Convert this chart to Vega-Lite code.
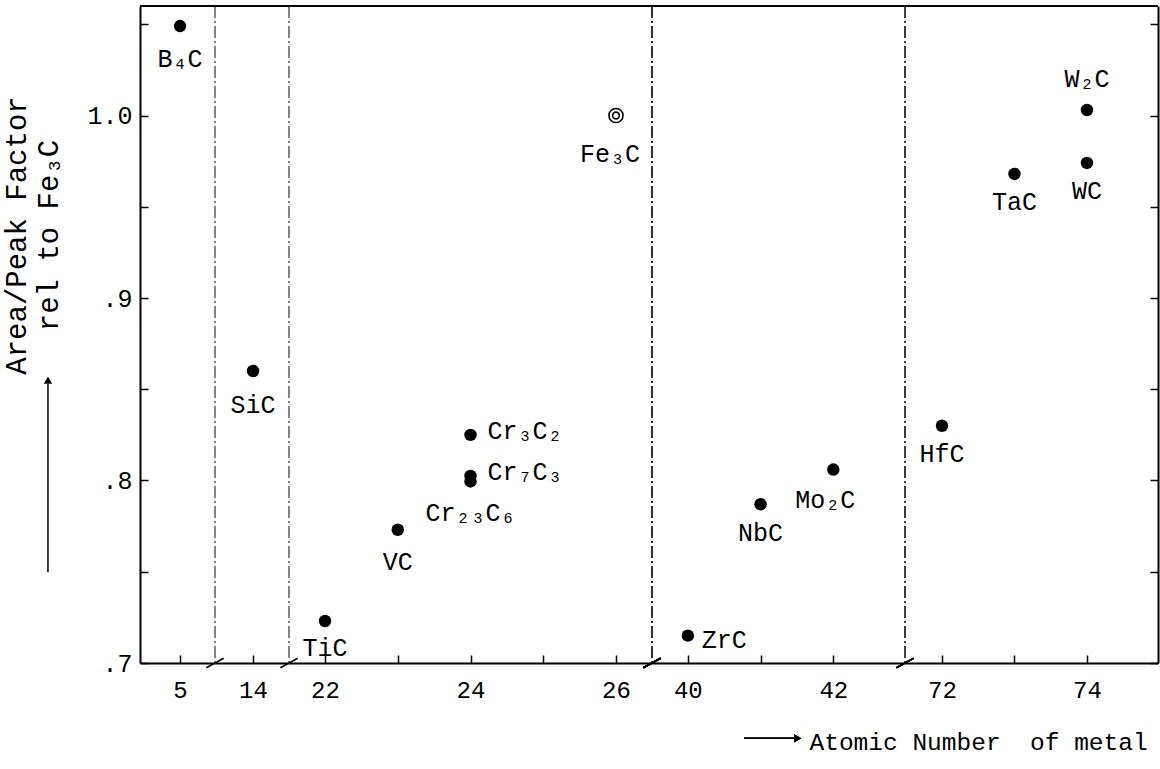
{
  "$schema": "https://vega.github.io/schema/vega-lite/v6.json",
  "padding": {"left": 2, "top": 5, "right": 2, "bottom": 5},
  "background": "white",
  "spacing": 0,
  "bounds": "flush",
  "datasets": {
    "carbides": [
      {"compound": "B₄C", "Z": 5, "factor": 1.049},
      {"compound": "SiC", "Z": 14, "factor": 0.860},
      {"compound": "TiC", "Z": 22, "factor": 0.723},
      {"compound": "VC", "Z": 23, "factor": 0.773},
      {"compound": "Cr₃C₂", "Z": 24, "factor": 0.825},
      {"compound": "Cr₇C₃", "Z": 24, "factor": 0.8025},
      {"compound": "Cr₂₃C₆", "Z": 24, "factor": 0.7995},
      {"compound": "Fe₃C", "Z": 26, "factor": 1.0},
      {"compound": "ZrC", "Z": 40, "factor": 0.715},
      {"compound": "NbC", "Z": 41, "factor": 0.787},
      {"compound": "Mo₂C", "Z": 42, "factor": 0.806},
      {"compound": "HfC", "Z": 72, "factor": 0.830},
      {"compound": "TaC", "Z": 73, "factor": 0.968},
      {"compound": "W₂C", "Z": 74, "factor": 1.003},
      {"compound": "WC", "Z": 74, "factor": 0.974}
    ]
  },
  "hconcat": [
    {
      "width": 75, "height": 657,
      "data": {"name": "carbides"},
      "transform": [{"filter": "datum.Z == 5"}],
      "resolve": {"axis": {"x": "independent", "y": "independent"}},
      "layer": [
        {"mark": {"type": "rule", "color": "black", "strokeWidth": 2}, "encoding": {"y": {"datum": 1.06, "type": "quantitative", "scale": {"domain": [0.7, 1.06], "nice": false, "zero": false}, "axis": null}}},
        {"mark": {"type": "rule", "color": "#333", "strokeWidth": 1.2, "strokeDash": [12, 3, 2, 3]}, "encoding": {"x": {"datum": 5.48, "type": "quantitative", "scale": {"domain": [4.45, 5.48], "nice": false, "zero": false}, "axis": null}}},
        {"mark": {"type": "point", "shape": "M -1 0.55 L 1 -0.55", "filled": false, "color": "black", "strokeWidth": 1.5, "size": 300, "opacity": 1}, "encoding": {"x": {"datum": 5.48, "type": "quantitative", "scale": {"domain": [4.45, 5.48], "nice": false, "zero": false}, "axis": null}, "y": {"datum": 0.7, "type": "quantitative", "scale": {"domain": [0.7, 1.06], "nice": false, "zero": false}, "axis": null}}},
        {"mark": {"type": "rule", "color": "black", "strokeWidth": 1.5}, "encoding": {"x": {"datum": 3.186, "type": "quantitative", "scale": {"domain": [4.45, 5.48], "nice": false, "zero": false}, "axis": null}, "y": {"datum": 0.7497, "type": "quantitative", "scale": {"domain": [0.7, 1.06], "nice": false, "zero": false}, "axis": null}, "y2": {"datum": 0.853}}},
        {"mark": {"type": "point", "shape": "triangle-up", "filled": true, "color": "black", "size": 70, "opacity": 1}, "encoding": {"x": {"datum": 3.186, "type": "quantitative", "scale": {"domain": [4.45, 5.48], "nice": false, "zero": false}, "axis": null}, "y": {"datum": 0.855, "type": "quantitative", "scale": {"domain": [0.7, 1.06], "nice": false, "zero": false}, "axis": null}}},
        {
          "mark": {"type": "point", "shape": "circle", "filled": true, "color": "black", "size": 155, "opacity": 1},
          "encoding": {
            "x": {"field": "Z", "type": "quantitative", "scale": {"domain": [4.45, 5.48], "nice": false, "zero": false}, "axis": {"values": [5], "title": null}},
            "y": {"field": "factor", "type": "quantitative", "scale": {"domain": [0.7, 1.06], "nice": false, "zero": false},
              "axis": {"orient": "left", "values": [0.7, 0.75, 0.8, 0.85, 0.9, 0.95, 1.0, 1.05],
                "labelExpr": "abs(datum.value-1)<0.001 ? '1.0' : abs(datum.value-0.9)<0.001 ? '.9' : abs(datum.value-0.8)<0.001 ? '.8' : abs(datum.value-0.7)<0.001 ? '.7' : ''",
                "labelFontSize": 25, "labelPadding": 16,
                "title": ["Area/Peak Factor", "rel to Fe₃C"], "titleX": -124, "titleY": 229, "titleAngle": 270, "titleAlign": "center", "titleBaseline": "middle", "titleLineHeight": 32, "titleFontSize": 29}}
          }
        },
        {"mark": {"type": "text", "dy": 33, "baseline": "middle", "align": "center"}, "encoding": {"x": {"field": "Z", "type": "quantitative", "scale": {"domain": [4.45, 5.48], "nice": false, "zero": false}, "axis": null}, "y": {"field": "factor", "type": "quantitative", "scale": {"domain": [0.7, 1.06], "nice": false, "zero": false}, "axis": null}, "text": {"field": "compound"}}}
      ]
    },
    {
      "width": 74, "height": 657,
      "data": {"name": "carbides"},
      "transform": [{"filter": "datum.Z == 14"}],
      "resolve": {"axis": {"x": "independent", "y": "independent"}},
      "layer": [
        {"mark": {"type": "rule", "color": "black", "strokeWidth": 2}, "encoding": {"y": {"datum": 1.06, "type": "quantitative", "scale": {"domain": [0.7, 1.06], "nice": false, "zero": false}, "axis": null}}},
        {"mark": {"type": "rule", "color": "#333", "strokeWidth": 1.2, "strokeDash": [12, 3, 2, 3]}, "encoding": {"x": {"datum": 14.495, "type": "quantitative", "scale": {"domain": [13.477, 14.495], "nice": false, "zero": false}, "axis": null}}},
        {"mark": {"type": "point", "shape": "M -1 0.55 L 1 -0.55", "filled": false, "color": "black", "strokeWidth": 1.5, "size": 300, "opacity": 1}, "encoding": {"x": {"datum": 14.495, "type": "quantitative", "scale": {"domain": [13.477, 14.495], "nice": false, "zero": false}, "axis": null}, "y": {"datum": 0.7, "type": "quantitative", "scale": {"domain": [0.7, 1.06], "nice": false, "zero": false}, "axis": null}}},
        {
          "mark": {"type": "point", "shape": "circle", "filled": true, "color": "black", "size": 155, "opacity": 1},
          "encoding": {
            "x": {"field": "Z", "type": "quantitative", "scale": {"domain": [13.477, 14.495], "nice": false, "zero": false}, "axis": {"values": [14], "title": null}},
            "y": {"field": "factor", "type": "quantitative", "scale": {"domain": [0.7, 1.06], "nice": false, "zero": false}, "axis": null}
          }
        },
        {"mark": {"type": "text", "dy": 34, "baseline": "middle", "align": "center"}, "encoding": {"x": {"field": "Z", "type": "quantitative", "scale": {"domain": [13.477, 14.495], "nice": false, "zero": false}, "axis": null}, "y": {"field": "factor", "type": "quantitative", "scale": {"domain": [0.7, 1.06], "nice": false, "zero": false}, "axis": null}, "text": {"field": "compound"}}}
      ]
    },
    {
      "width": 363, "height": 657,
      "data": {"name": "carbides"},
      "transform": [{"filter": "datum.Z >= 22 && datum.Z <= 26"}],
      "resolve": {"axis": {"x": "independent", "y": "independent"}},
      "layer": [
        {"mark": {"type": "rule", "color": "black", "strokeWidth": 2}, "encoding": {"y": {"datum": 1.06, "type": "quantitative", "scale": {"domain": [0.7, 1.06], "nice": false, "zero": false}, "axis": null}}},
        {"mark": {"type": "rule", "color": "#333", "strokeWidth": 1.2, "strokeDash": [12, 3, 2, 3]}, "encoding": {"x": {"datum": 26.495, "type": "quantitative", "scale": {"domain": [21.505, 26.495], "nice": false, "zero": false}, "axis": null}}},
        {"mark": {"type": "point", "shape": "M -1 0.55 L 1 -0.55", "filled": false, "color": "black", "strokeWidth": 1.5, "size": 300, "opacity": 1}, "encoding": {"x": {"datum": 26.495, "type": "quantitative", "scale": {"domain": [21.505, 26.495], "nice": false, "zero": false}, "axis": null}, "y": {"datum": 0.7, "type": "quantitative", "scale": {"domain": [0.7, 1.06], "nice": false, "zero": false}, "axis": null}}},
        {
          "transform": [{"filter": "datum.compound != 'Fe₃C'"}],
          "mark": {"type": "point", "shape": "circle", "filled": true, "color": "black", "size": 155, "opacity": 1},
          "encoding": {
            "x": {"field": "Z", "type": "quantitative", "scale": {"domain": [21.505, 26.495], "nice": false, "zero": false}, "axis": {"values": [22, 23, 24, 25, 26], "labelExpr": "datum.value % 2 == 0 ? datum.label : ''", "title": null}},
            "y": {"field": "factor", "type": "quantitative", "scale": {"domain": [0.7, 1.06], "nice": false, "zero": false}, "axis": null}
          }
        },
        {
          "transform": [{"filter": "datum.compound == 'Fe₃C'"}],
          "mark": {"type": "point", "shape": "circle", "filled": false, "color": "black", "strokeWidth": 1.6, "size": 200, "opacity": 1},
          "encoding": {
            "x": {"field": "Z", "type": "quantitative", "scale": {"domain": [21.505, 26.495], "nice": false, "zero": false}, "axis": null},
            "y": {"field": "factor", "type": "quantitative", "scale": {"domain": [0.7, 1.06], "nice": false, "zero": false}, "axis": null}
          }
        },
        {
          "transform": [{"filter": "datum.compound == 'Fe₃C'"}],
          "mark": {"type": "point", "shape": "circle", "filled": false, "color": "black", "strokeWidth": 1.6, "size": 45, "opacity": 1},
          "encoding": {
            "x": {"field": "Z", "type": "quantitative", "scale": {"domain": [21.505, 26.495], "nice": false, "zero": false}, "axis": null},
            "y": {"field": "factor", "type": "quantitative", "scale": {"domain": [0.7, 1.06], "nice": false, "zero": false}, "axis": null}
          }
        },
        {"transform": [{"filter": {"field": "compound", "oneOf": ["VC", "Cr₂₃C₆"]}}], "mark": {"type": "text", "dy": 32, "baseline": "middle", "align": "center"}, "encoding": {"x": {"field": "Z", "type": "quantitative", "scale": {"domain": [21.505, 26.495], "nice": false, "zero": false}, "axis": null}, "y": {"field": "factor", "type": "quantitative", "scale": {"domain": [0.7, 1.06], "nice": false, "zero": false}, "axis": null}, "text": {"field": "compound"}}},
        {"transform": [{"filter": {"field": "compound", "oneOf": ["TiC"]}}], "mark": {"type": "text", "dy": 27, "baseline": "middle", "align": "center"}, "encoding": {"x": {"field": "Z", "type": "quantitative", "scale": {"domain": [21.505, 26.495], "nice": false, "zero": false}, "axis": null}, "y": {"field": "factor", "type": "quantitative", "scale": {"domain": [0.7, 1.06], "nice": false, "zero": false}, "axis": null}, "text": {"field": "compound"}}},
        {"transform": [{"filter": {"field": "compound", "oneOf": ["Fe₃C"]}}], "mark": {"type": "text", "dy": 38, "dx": -6, "baseline": "middle", "align": "center"}, "encoding": {"x": {"field": "Z", "type": "quantitative", "scale": {"domain": [21.505, 26.495], "nice": false, "zero": false}, "axis": null}, "y": {"field": "factor", "type": "quantitative", "scale": {"domain": [0.7, 1.06], "nice": false, "zero": false}, "axis": null}, "text": {"field": "compound"}}},
        {"transform": [{"filter": {"field": "compound", "oneOf": ["Cr₃C₂", "Cr₇C₃"]}}], "mark": {"type": "text", "dx": 17, "dy": -4, "baseline": "middle", "align": "left"}, "encoding": {"x": {"field": "Z", "type": "quantitative", "scale": {"domain": [21.505, 26.495], "nice": false, "zero": false}, "axis": null}, "y": {"field": "factor", "type": "quantitative", "scale": {"domain": [0.7, 1.06], "nice": false, "zero": false}, "axis": null}, "text": {"field": "compound"}}}
      ]
    },
    {
      "width": 253, "height": 657,
      "data": {"name": "carbides"},
      "transform": [{"filter": "datum.Z >= 40 && datum.Z <= 42"}],
      "resolve": {"axis": {"x": "independent", "y": "independent"}},
      "layer": [
        {"mark": {"type": "rule", "color": "black", "strokeWidth": 2}, "encoding": {"y": {"datum": 1.06, "type": "quantitative", "scale": {"domain": [0.7, 1.06], "nice": false, "zero": false}, "axis": null}}},
        {"mark": {"type": "rule", "color": "#333", "strokeWidth": 1.2, "strokeDash": [12, 3, 2, 3]}, "encoding": {"x": {"datum": 42.986, "type": "quantitative", "scale": {"domain": [39.507, 42.986], "nice": false, "zero": false}, "axis": null}}},
        {"mark": {"type": "point", "shape": "M -1 0.55 L 1 -0.55", "filled": false, "color": "black", "strokeWidth": 1.5, "size": 300, "opacity": 1}, "encoding": {"x": {"datum": 42.986, "type": "quantitative", "scale": {"domain": [39.507, 42.986], "nice": false, "zero": false}, "axis": null}, "y": {"datum": 0.7, "type": "quantitative", "scale": {"domain": [0.7, 1.06], "nice": false, "zero": false}, "axis": null}}},
        {"mark": {"type": "rule", "color": "black", "strokeWidth": 1.5}, "encoding": {"x": {"datum": 40.772, "type": "quantitative", "scale": {"domain": [39.507, 42.986], "nice": false, "zero": false}, "axis": null}, "x2": {"datum": 41.5}, "y": {"datum": 0.6587, "type": "quantitative", "scale": {"domain": [0.7, 1.06], "nice": false, "zero": false}, "axis": null}}},
        {"mark": {"type": "point", "shape": "triangle-right", "filled": true, "color": "black", "size": 70, "opacity": 1}, "encoding": {"x": {"datum": 41.51, "type": "quantitative", "scale": {"domain": [39.507, 42.986], "nice": false, "zero": false}, "axis": null}, "y": {"datum": 0.6587, "type": "quantitative", "scale": {"domain": [0.7, 1.06], "nice": false, "zero": false}, "axis": null}}},
        {
          "mark": {"type": "point", "shape": "circle", "filled": true, "color": "black", "size": 155, "opacity": 1},
          "encoding": {
            "x": {"field": "Z", "type": "quantitative", "scale": {"domain": [39.507, 42.986], "nice": false, "zero": false},
              "axis": {"values": [40, 41, 42], "labelExpr": "datum.value % 2 == 0 ? datum.label : ''",
                "title": "Atomic Number\u00a0 of metal", "titleX": 157, "titleY": 79, "titleAlign": "left", "titleBaseline": "middle", "titleAngle": 0, "titleFontSize": 24.5}},
            "y": {"field": "factor", "type": "quantitative", "scale": {"domain": [0.7, 1.06], "nice": false, "zero": false}, "axis": null}
          }
        },
        {"transform": [{"filter": {"field": "compound", "oneOf": ["NbC"]}}], "mark": {"type": "text", "dy": 29, "baseline": "middle", "align": "center"}, "encoding": {"x": {"field": "Z", "type": "quantitative", "scale": {"domain": [39.507, 42.986], "nice": false, "zero": false}, "axis": null}, "y": {"field": "factor", "type": "quantitative", "scale": {"domain": [0.7, 1.06], "nice": false, "zero": false}, "axis": null}, "text": {"field": "compound"}}},
        {"transform": [{"filter": {"field": "compound", "oneOf": ["Mo₂C"]}}], "mark": {"type": "text", "dy": 30, "dx": -8, "baseline": "middle", "align": "center"}, "encoding": {"x": {"field": "Z", "type": "quantitative", "scale": {"domain": [39.507, 42.986], "nice": false, "zero": false}, "axis": null}, "y": {"field": "factor", "type": "quantitative", "scale": {"domain": [0.7, 1.06], "nice": false, "zero": false}, "axis": null}, "text": {"field": "compound"}}},
        {"transform": [{"filter": {"field": "compound", "oneOf": ["ZrC"]}}], "mark": {"type": "text", "dx": 14, "dy": 4, "baseline": "middle", "align": "left"}, "encoding": {"x": {"field": "Z", "type": "quantitative", "scale": {"domain": [39.507, 42.986], "nice": false, "zero": false}, "axis": null}, "y": {"field": "factor", "type": "quantitative", "scale": {"domain": [0.7, 1.06], "nice": false, "zero": false}, "axis": null}, "text": {"field": "compound"}}}
      ]
    },
    {
      "width": 253, "height": 657,
      "data": {"name": "carbides"},
      "transform": [{"filter": "datum.Z >= 72"}],
      "resolve": {"axis": {"x": "independent", "y": "independent"}},
      "layer": [
        {"mark": {"type": "rule", "color": "black", "strokeWidth": 2}, "encoding": {"y": {"datum": 1.06, "type": "quantitative", "scale": {"domain": [0.7, 1.06], "nice": false, "zero": false}, "axis": null}}},
        {
          "mark": {"type": "point", "shape": "circle", "filled": true, "color": "black", "size": 155, "opacity": 1},
          "encoding": {
            "x": {"field": "Z", "type": "quantitative", "scale": {"domain": [71.49, 74.98], "nice": false, "zero": false}, "axis": {"values": [72, 73, 74], "labelExpr": "datum.value % 2 == 0 ? datum.label : ''", "title": null}},
            "y": {"field": "factor", "type": "quantitative", "scale": {"domain": [0.7, 1.06], "nice": false, "zero": false}, "axis": {"orient": "right", "values": [0.7, 0.75, 0.8, 0.85, 0.9, 0.95, 1.0, 1.05], "labels": false, "title": null}}
          }
        },
        {"transform": [{"filter": {"field": "compound", "oneOf": ["HfC", "TaC", "WC"]}}], "mark": {"type": "text", "dy": 28, "baseline": "middle", "align": "center"}, "encoding": {"x": {"field": "Z", "type": "quantitative", "scale": {"domain": [71.49, 74.98], "nice": false, "zero": false}, "axis": null}, "y": {"field": "factor", "type": "quantitative", "scale": {"domain": [0.7, 1.06], "nice": false, "zero": false}, "axis": null}, "text": {"field": "compound"}}},
        {"transform": [{"filter": {"field": "compound", "oneOf": ["W₂C"]}}], "mark": {"type": "text", "dy": -31, "baseline": "middle", "align": "center"}, "encoding": {"x": {"field": "Z", "type": "quantitative", "scale": {"domain": [71.49, 74.98], "nice": false, "zero": false}, "axis": null}, "y": {"field": "factor", "type": "quantitative", "scale": {"domain": [0.7, 1.06], "nice": false, "zero": false}, "axis": null}, "text": {"field": "compound"}}}
      ]
    }
  ],
  "config": {
    "view": {"stroke": null},
    "font": "Liberation Mono",
    "axis": {
      "domainColor": "black", "domainWidth": 2, "tickColor": "black", "tickWidth": 1.5, "tickSize": -8,
      "labelColor": "black", "labelFont": "Liberation Mono", "labelFontSize": 24, "labelFlush": false, "labelOverlap": false,
      "grid": false, "titleFont": "Liberation Mono", "titleColor": "black", "titleFontWeight": "normal", "titleFontSize": 25
    },
    "axisX": {"labelPadding": 23},
    "axisY": {"labelPadding": 15},
    "text": {"font": "Liberation Mono", "fontSize": 25, "color": "black"}
  }
}
